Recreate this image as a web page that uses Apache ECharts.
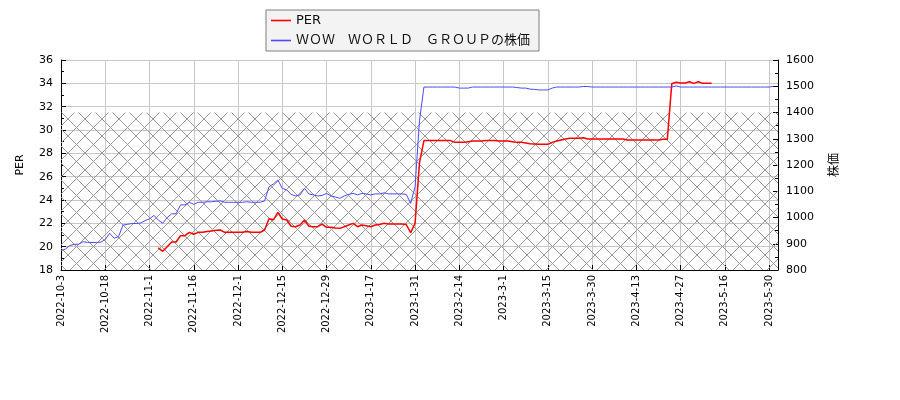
<!DOCTYPE html>
<html><head><meta charset="utf-8">
<script src="https://cdn.jsdelivr.net/npm/echarts@6/dist/echarts.min.js"></script>
<style>html,body{margin:0;padding:0;background:#fff}#c{width:900px;height:400px}</style>
</head><body><div id="c"></div>
<script>
const dates = [
'2022-10-3','2022-10-4','2022-10-5','2022-10-6','2022-10-7','2022-10-11','2022-10-12','2022-10-13','2022-10-14','2022-10-17',
'2022-10-18','2022-10-19','2022-10-20','2022-10-21','2022-10-24','2022-10-25','2022-10-26','2022-10-27','2022-10-28','2022-10-31',
'2022-11-1','2022-11-2','2022-11-4','2022-11-7','2022-11-8','2022-11-9','2022-11-10','2022-11-11','2022-11-14','2022-11-15',
'2022-11-16','2022-11-17','2022-11-18','2022-11-21','2022-11-22','2022-11-24','2022-11-25','2022-11-28','2022-11-29','2022-11-30',
'2022-12-1','2022-12-2','2022-12-5','2022-12-6','2022-12-7','2022-12-8','2022-12-9','2022-12-12','2022-12-13','2022-12-14',
'2022-12-15','2022-12-16','2022-12-19','2022-12-20','2022-12-21','2022-12-22','2022-12-23','2022-12-26','2022-12-27','2022-12-28',
'2022-12-29','2022-12-30','2023-1-4','2023-1-5','2023-1-6','2023-1-10','2023-1-11','2023-1-12','2023-1-13','2023-1-16',
'2023-1-17','2023-1-18','2023-1-19','2023-1-20','2023-1-23','2023-1-24','2023-1-25','2023-1-26','2023-1-27','2023-1-30',
'2023-1-31','2023-2-1','2023-2-2','2023-2-3','2023-2-6','2023-2-7','2023-2-8','2023-2-9','2023-2-10','2023-2-13',
'2023-2-14','2023-2-15','2023-2-16','2023-2-17','2023-2-20','2023-2-21','2023-2-22','2023-2-24','2023-2-27','2023-2-28',
'2023-3-1','2023-3-2','2023-3-3','2023-3-6','2023-3-7','2023-3-8','2023-3-9','2023-3-10','2023-3-13','2023-3-14',
'2023-3-15','2023-3-16','2023-3-17','2023-3-20','2023-3-22','2023-3-23','2023-3-24','2023-3-27','2023-3-28','2023-3-29',
'2023-3-30','2023-3-31','2023-4-3','2023-4-4','2023-4-5','2023-4-6','2023-4-7','2023-4-10','2023-4-11','2023-4-12',
'2023-4-13','2023-4-14','2023-4-17','2023-4-18','2023-4-19','2023-4-20','2023-4-21','2023-4-24','2023-4-25','2023-4-26',
'2023-4-27','2023-4-28','2023-5-1','2023-5-2','2023-5-8','2023-5-9','2023-5-10','2023-5-11','2023-5-12','2023-5-15',
'2023-5-16','2023-5-17','2023-5-18','2023-5-19','2023-5-22','2023-5-23','2023-5-24','2023-5-25','2023-5-26','2023-5-29',
'2023-5-30','2023-5-31','2023-6-1'
];
const perValues = [
null,null,null,null,null,null,null,null,null,null,
null,null,null,null,null,null,null,null,null,null,
null,null,19.9,19.6,20.0,20.4,20.4,20.94,20.94,21.23,
21.06,21.23,21.23,21.3,21.35,21.4,21.43,21.23,21.23,21.23,
21.23,21.23,21.3,21.23,21.23,21.23,21.43,22.4,22.3,22.94,
22.37,22.29,21.75,21.71,21.86,22.29,21.75,21.71,21.71,21.94,
21.66,21.66,21.6,21.57,21.71,21.86,22.0,21.71,21.86,21.8,
21.71,21.86,21.9,22.0,21.94,21.94,21.94,21.94,21.9,21.2,
22.0,27.2,29.09,29.09,29.09,29.09,29.09,29.09,29.09,28.94,
28.94,28.94,29.0,29.06,29.06,29.06,29.11,29.11,29.11,29.06,
29.06,29.06,29.0,28.94,28.94,28.89,28.83,28.8,28.77,28.77,
28.77,28.94,29.06,29.15,29.23,29.29,29.29,29.29,29.34,29.23,
29.23,29.23,29.23,29.23,29.23,29.23,29.23,29.23,29.14,29.14,
29.14,29.14,29.14,29.14,29.14,29.14,29.2,29.2,33.97,34.09,
34.03,34.03,34.14,34.0,34.14,34.0,34.0,34.0
];
const priceValues = [
873,880,893,898,898,908,905,905,905,906,
916,940,921,927,971,974,977,977,979,988,
995,1008,990,978,1000,1014,1014,1048,1048,1058,
1050,1058,1058,1060,1060,1062,1063,1058,1058,1058,
1058,1058,1060,1058,1058,1058,1063,1117,1128,1143,
1111,1105,1088,1082,1086,1111,1090,1086,1082,1084,
1092,1082,1078,1073,1082,1088,1092,1086,1092,1090,
1086,1090,1090,1094,1090,1090,1090,1090,1088,1054,
1117,1370,1497,1497,1497,1497,1497,1497,1497,1497,
1493,1493,1493,1497,1497,1497,1497,1497,1497,1497,
1497,1497,1497,1495,1493,1493,1489,1488,1486,1486,
1486,1493,1497,1497,1497,1497,1497,1497,1499,1499,
1497,1497,1497,1497,1497,1497,1497,1497,1497,1497,
1497,1497,1497,1497,1497,1497,1497,1497,1497,1501,
1497,1497,1497,1497,1497,1497,1497,1497,1497,1497,
1497,1497,1497,1497,1497,1497,1497,1497,1497,1497,
1497,1500
];
const hatchBand = [18, 31.5];
const seriesNames = ['PER', 'ＷＯＷ　ＷＯＲＬＤ　ＧＲＯＵＰの株価'];

const hatch = document.createElement('canvas');
hatch.width = 17; hatch.height = 17;
const g = hatch.getContext('2d');
g.strokeStyle = '#9a9a9a'; g.lineWidth = 1;
g.beginPath();
g.moveTo(-1, -1); g.lineTo(18, 18);
g.moveTo(-1, 18); g.lineTo(18, -1);
g.stroke();

const font = 'DejaVu Sans, Noto Sans CJK JP, sans-serif';
const chart = echarts.init(document.getElementById('c'));
chart.setOption({
  animation: false,
  backgroundColor: '#fff',
  textStyle: { fontFamily: font },
  grid: { left: 61, right: 122, top: 60, bottom: 130 },
  legend: {
    data: seriesNames.map(n => ({ name: n, icon: 'rect' })),
    orient: 'vertical',
    left: 266, top: 10,
    padding: [3, 9, 3, 5],
    itemGap: 5,
    itemWidth: 20, itemHeight: 1.6,
    backgroundColor: '#f3f3f3',
    borderColor: '#7f7f7f', borderWidth: 1, borderRadius: 0,
    textStyle: { fontSize: 13, color: '#111', fontFamily: font, lineHeight: 15 }
  },
  xAxis: {
    type: 'category', data: dates, boundaryGap: false,
    axisLine: { lineStyle: { color: '#000', width: 1 } },
    axisTick: { inside: true, interval: 9, length: 5, lineStyle: { color: '#000' } },
    axisLabel: { interval: 9, rotate: 90, fontSize: 10, color: '#000', margin: 5, fontFamily: font },
    splitLine: { show: true, interval: 9, lineStyle: { color: '#c8c8c8', width: 1 } }
  },
  yAxis: [{
    type: 'value', min: 18, max: 36, interval: 2, position: 'left',
    name: 'PER', nameLocation: 'middle', nameGap: 35, nameRotate: 90,
    nameTextStyle: { fontSize: 11, color: '#000', fontFamily: font },
    axisLine: { show: true, lineStyle: { color: '#000' } },
    axisTick: { show: true, inside: true, length: 5, lineStyle: { color: '#000' } },
    minorTick: { show: true, splitNumber: 2, length: 3, lineStyle: { color: '#000' } },
    axisLabel: { fontSize: 11, color: '#000', margin: 8, fontFamily: font },
    splitLine: { show: true, lineStyle: { color: '#c8c8c8', width: 1 } }
  }, {
    type: 'value', min: 800, max: 1600, interval: 100, position: 'right',
    name: '株価', nameLocation: 'middle', nameGap: 51, nameRotate: 90,
    nameTextStyle: { fontSize: 12, color: '#000', fontFamily: font },
    axisLine: { show: true, lineStyle: { color: '#000' } },
    axisTick: { show: true, inside: true, length: 5, lineStyle: { color: '#000' } },
    minorTick: { show: true, splitNumber: 2, length: 3, lineStyle: { color: '#000' } },
    axisLabel: { fontSize: 11, color: '#000', margin: 8, fontFamily: font, formatter: v => String(v) },
    splitLine: { show: false }
  }],
  series: [{
    name: seriesNames[0], type: 'line', yAxisIndex: 0, data: perValues,
    symbol: 'none', connectNulls: false,
    lineStyle: { color: '#ff0000', width: 1.5 }, itemStyle: { color: '#ff0000' },
    emphasis: { disabled: true },
    markArea: {
      silent: true, label: { show: false },
      itemStyle: { color: { image: hatch, repeat: 'repeat' } },
      data: [[{ yAxis: hatchBand[0] }, { yAxis: hatchBand[1] }]]
    }
  }, {
    name: seriesNames[1], type: 'line', yAxisIndex: 1, data: priceValues,
    symbol: 'none',
    lineStyle: { color: '#4a4aff', width: 1 }, itemStyle: { color: '#4a4aff' },
    emphasis: { disabled: true }
  }]
});
</script></body></html>
